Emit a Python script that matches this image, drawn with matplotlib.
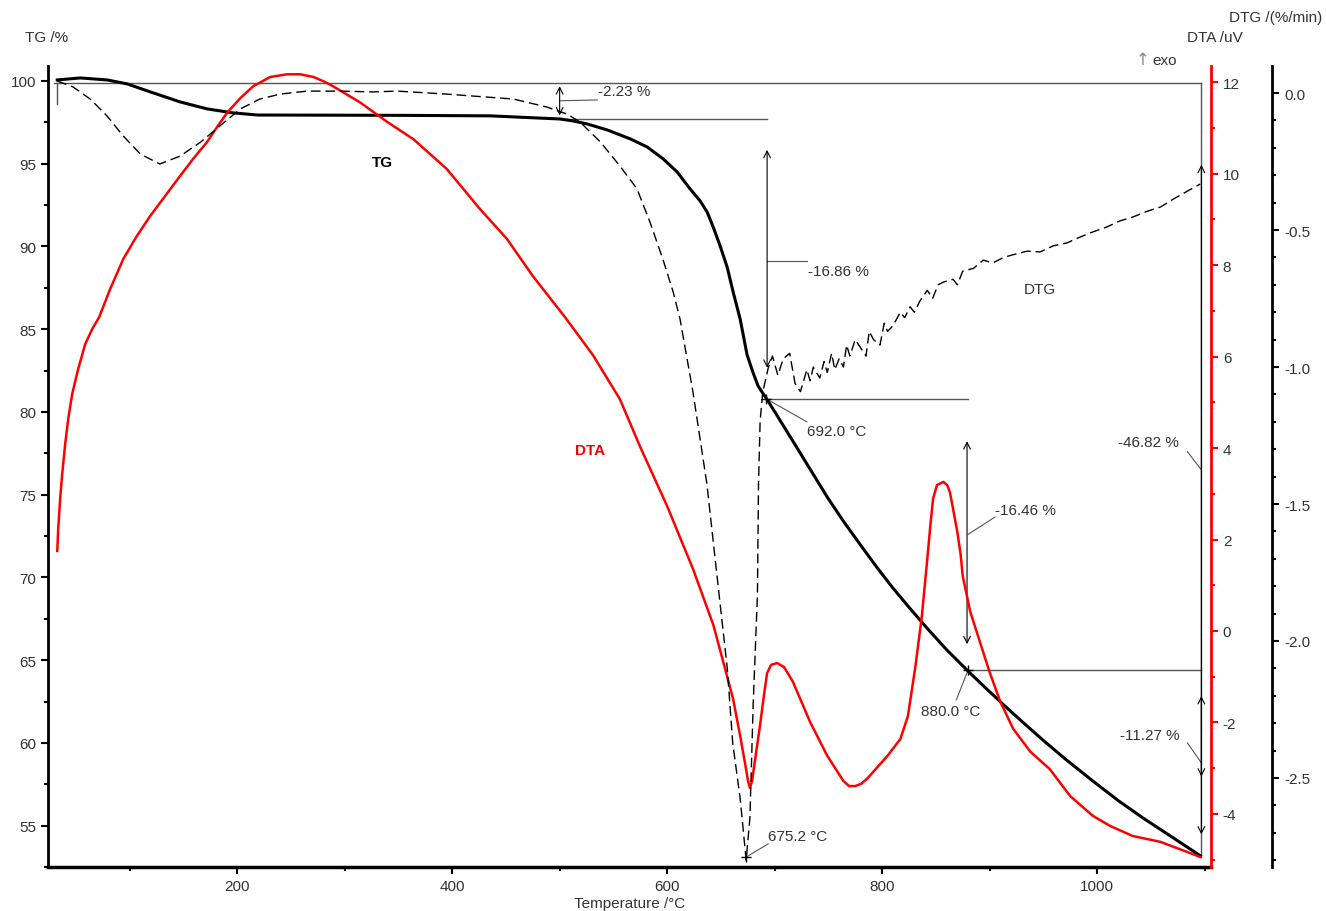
import numpy as np
import matplotlib
matplotlib.use("Agg")
import matplotlib.pyplot as plt
from matplotlib.ticker import MultipleLocator

plt.rcParams['font.family'] = ['Liberation Sans', 'DejaVu Sans']
plt.rcParams['axes.unicode_minus'] = False

# TG curve (temperature /°C, mass /%)
tg_t = [32.6, 54, 79, 97.7, 119, 147, 172, 196, 219, 352, 435, 500.5, 512.6, 525.6, 544.2,
        565.6, 581.4, 596.3, 609.3, 621.4, 630.7, 637.2, 642.8, 649.3, 655.8, 661.4, 667.9,
        674.4, 680, 684.6, 689.3, 692, 700, 710, 720, 735, 749, 765, 780, 795, 810,
        826, 842, 860, 879, 895, 913, 930, 950, 970, 996, 1020, 1043, 1070, 1096]
tg_v = [100.06, 100.18, 100.06, 99.82, 99.34, 98.73, 98.31, 98.07, 97.94, 97.92, 97.89,
        97.70, 97.58, 97.40, 97.04, 96.50, 96.01, 95.29, 94.50, 93.47, 92.75, 92.08, 91.18,
        90.03, 88.76, 87.25, 85.62, 83.44, 82.36, 81.57, 81.10, 80.85, 80.02, 78.97, 77.92,
        76.33, 74.85, 73.30, 71.95, 70.62, 69.36, 68.12, 66.92, 65.63, 64.40, 63.40, 62.30,
        61.30, 60.15, 59.05, 57.70, 56.50, 55.45, 54.30, 53.18]

# DTA curve (temperature /°C, uV)
dta_t = [32.6, 33.5, 35.3, 37.2, 40, 42.8, 46.5, 52.1, 58.6, 65.1, 71.6, 81.9, 94, 106, 119,
         133, 147, 159, 172, 181.4, 191, 203, 215, 230.7, 246.5, 258.6, 271, 280, 289, 314,
         339.5, 364, 395, 426, 451, 475, 505, 531, 556, 575, 600, 624, 643, 656, 661.4, 668,
         672.6, 675.3, 677, 679, 681.9, 686.5, 690.2, 693, 696.7, 702.3, 708.8, 717, 733,
         749, 764, 769.3, 775, 780.5, 786, 805, 817, 824, 831, 837, 842, 845, 847.4, 851,
         857, 860.5, 863, 866, 870, 873, 875, 882, 891, 900, 910, 922, 938, 956, 975, 996,
         1012, 1033, 1059, 1077, 1096]
dta_v = [1.75, 2.23, 2.89, 3.43, 4.09, 4.63, 5.18, 5.73, 6.27, 6.60, 6.86, 7.48, 8.13, 8.61,
         9.07, 9.51, 9.95, 10.32, 10.69, 11.02, 11.34, 11.65, 11.91, 12.11, 12.17, 12.17,
         12.11, 12.02, 11.91, 11.56, 11.13, 10.75, 10.10, 9.22, 8.57, 7.76, 6.86, 6.03, 5.07,
         4.02, 2.73, 1.36, 0.13, -1.01, -1.49, -2.30, -2.91, -3.28, -3.43, -3.28, -2.80,
         -2.05, -1.38, -0.92, -0.74, -0.70, -0.79, -1.11, -1.99, -2.73, -3.28, -3.39, -3.39,
         -3.34, -3.23, -2.73, -2.36, -1.86, -0.77, 0.33, 1.57, 2.34, 2.89, 3.19, 3.26, 3.19,
         3.04, 2.67, 2.16, 1.68, 1.20, 0.42, -0.24, -0.90, -1.55, -2.14, -2.64, -3.02, -3.61,
         -4.04, -4.26, -4.48, -4.61, -4.77, -4.94]

# DTG curve (temperature /°C, %/min)
dtg_t = [32.6, 47.4, 63.3, 79, 94, 110, 128, 147, 166, 184, 203, 221, 240, 265, 296,
         326.5, 349, 395, 457, 488, 507, 519, 538, 556, 572, 584, 596, 605.6, 612, 624,
         637, 646.5, 656, 661, 668, 673.5, 677, 680, 684, 685, 686.5, 689, 694, 698, 703,
         708, 714, 719, 724, 730, 733, 736, 742, 746, 749, 753, 756, 760, 764, 767, 770,
         775, 780, 785, 788, 792, 798, 802, 805, 810, 817, 821, 826, 830, 835, 842, 847,
         852, 857, 866, 870, 875, 885, 894, 903, 913, 922, 935, 947, 959, 972, 984,
         996, 1009, 1021, 1033, 1047, 1059, 1071, 1084, 1096]
dtg_v = [0.044, 0.022, -0.022, -0.084, -0.157, -0.223, -0.259, -0.230, -0.179, -0.120,
         -0.058, -0.022, -0.004, 0.007, 0.007, 0.004, 0.007, -0.004, -0.022, -0.051,
         -0.077, -0.106, -0.179, -0.266, -0.350, -0.471, -0.606, -0.726, -0.825, -1.091,
         -1.427, -1.766, -2.102, -2.372, -2.577, -2.80, -2.646, -2.237, -1.832, -1.427,
         -1.197, -1.091, -1.004, -0.96, -1.03, -0.97, -0.95, -1.06, -1.09, -1.01, -1.05,
         -1.00, -1.04, -0.98, -1.02, -0.95, -1.01, -0.97, -1.00, -0.92, -0.96, -0.90,
         -0.93, -0.96, -0.87, -0.90, -0.92, -0.84, -0.87, -0.85, -0.80, -0.82, -0.78,
         -0.80, -0.76, -0.72, -0.75, -0.70, -0.69, -0.68, -0.70, -0.65, -0.64, -0.61,
         -0.62, -0.60, -0.59, -0.577, -0.580, -0.558, -0.547, -0.526, -0.507, -0.489,
         -0.467, -0.453, -0.431, -0.416, -0.387, -0.358, -0.332]

txt = '#333333'
grey = '#555555'

fig = plt.figure(figsize=(13.26, 9.12), dpi=100)
ax = fig.add_axes([0.0362, 0.0482, 0.8771, 0.8783])
ax2 = ax.twinx()
ax3 = ax.twinx()

ax.set_xlim(24, 1106)
ax.set_ylim(52.5, 100.9)
ax2.set_ylim(-5.16, 12.35)
ax3.set_ylim(-2.825, 0.0985)

# curves
ax3.plot(dtg_t, dtg_v, color='black', lw=1.0, ls=(0, (7, 3.5)))
ax2.plot(dta_t, dta_v, color='red', lw=1.8)
ax.plot(tg_t, tg_v, color='black', lw=2.2, zorder=5)

# spines / ticks
for a in (ax, ax2, ax3):
    a.spines['top'].set_visible(False)
ax.spines['right'].set_visible(False)
ax.spines['left'].set_linewidth(2)
ax.spines['bottom'].set_linewidth(2.5)
for a in (ax2, ax3):
    a.spines['left'].set_visible(False)
    a.spines['bottom'].set_visible(False)
ax2.spines['right'].set_color('red')
ax2.spines['right'].set_linewidth(2)
ax3.spines['right'].set_position(('axes', 1.0525))
ax3.spines['right'].set_linewidth(2)

ax.xaxis.set_major_locator(MultipleLocator(200))
ax.xaxis.set_minor_locator(MultipleLocator(100))
ax.yaxis.set_major_locator(MultipleLocator(5))
ax.yaxis.set_minor_locator(MultipleLocator(2.5))
ax2.yaxis.set_major_locator(MultipleLocator(2))
ax2.yaxis.set_minor_locator(MultipleLocator(1))
ax3.yaxis.set_major_locator(MultipleLocator(0.5))
ax3.yaxis.set_minor_locator(MultipleLocator(0.1))
ax3.yaxis.set_major_formatter(matplotlib.ticker.FormatStrFormatter('%.1f'))

ax.tick_params(which='both', direction='out', labelsize=11, labelcolor=txt, width=1.5)
ax.tick_params(which='major', length=5)
ax.tick_params(which='minor', length=3)
ax2.tick_params(which='both', direction='out', labelsize=11, colors='red', labelcolor=txt, width=1.5)
ax2.tick_params(which='major', length=5)
ax2.tick_params(which='minor', length=3)
ax3.tick_params(which='both', direction='out', labelsize=11, labelcolor=txt, width=1.5)
ax3.tick_params(which='major', length=5)
ax3.tick_params(which='minor', length=3)

ax.set_xlabel('Temperature /°C', fontsize=11, color=txt, labelpad=2)

# step lines
ax.plot([30, 1097], [99.9, 99.9], color=grey, lw=1)
ax.plot([32.6, 32.6], [99.9, 98.6], color=grey, lw=1)
ax.plot([500, 693], [97.7, 97.7], color=grey, lw=1)
ax.plot([692, 880], [80.8, 80.8], color=grey, lw=1)
ax.plot([880, 1097], [64.4, 64.4], color=grey, lw=1)
ax.plot([1097, 1097], [99.9, 53.1], color=grey, lw=1)

arw = dict(arrowstyle='<->', color='black', lw=0.8, mutation_scale=12)
ax.annotate('', xy=(500, 99.85), xytext=(500, 97.75), arrowprops=arw)
ax.annotate('', xy=(693, 96.0), xytext=(693, 82.5), arrowprops=arw)
ax.annotate('', xy=(879, 78.4), xytext=(879, 65.8), arrowprops=arw)
ax.annotate('', xy=(1097, 95.1), xytext=(1097, 57.8), arrowprops=arw)
ax.annotate('', xy=(1097, 63.0), xytext=(1097, 54.3), arrowprops=arw)

# leader lines
leaders = [((500, 98.8), (535, 98.85)), ((693, 89.1), (730, 89.1)),
           ((692, 80.8), (730, 79.4)), ((880, 72.6), (905, 73.65)),
           ((880, 64.4), (869, 62.6)), ((1084, 77.6), (1097, 76.5)),
           ((1084, 60.0), (1097, 58.8)), ((673.5, 53.1), (694, 53.9))]
for (x0, y0), (x1, y1) in leaders:
    ax.plot([x0, x1], [y0, y1], color=grey, lw=0.8)
ax.plot([673.5, 692, 880], [53.1, 80.8, 64.4], '+', color='black', ms=7, mew=1)

fs = 11
ax.text(536, 99.4, '-2.23 %', fontsize=fs, color=txt, va='center')
ax.text(731, 88.5, '-16.86 %', fontsize=fs, color=txt, va='center')
ax.text(730, 78.85, '692.0 °C', fontsize=fs, color=txt, va='center')
ax.text(905, 74.1, '-16.46 %', fontsize=fs, color=txt, va='center')
ax.text(836, 61.9, '880.0 °C', fontsize=fs, color=txt, va='center')
ax.text(1019.5, 78.2, '-46.82 %', fontsize=fs, color=txt, va='center')
ax.text(1021, 60.5, '-11.27 %', fontsize=fs, color=txt, va='center')
ax.text(694, 54.4, '675.2 °C', fontsize=fs, color=txt, va='center')
ax.text(335, 95.1, 'TG', fontsize=fs, color='black', weight='bold', ha='center', va='center')
ax.text(528, 77.7, 'DTA', fontsize=fs, color='red', weight='bold', ha='center', va='center')
ax.text(947, 87.4, 'DTG', fontsize=fs, color=txt, ha='center', va='center')

# axis titles
fig.text(25 / 1326, 1 - 38 / 912, 'TG /%', fontsize=11, color=txt, va='center')
fig.text(1243 / 1326, 1 - 38 / 912, 'DTA /uV', fontsize=11, color=txt, va='center', ha='right')
fig.text(1322 / 1326, 1 - 18 / 912, 'DTG /(%/min)', fontsize=11, color=txt, va='center', ha='right')
fig.text(1136 / 1326, 1 - 60 / 912, '↑', fontsize=12, color='#888888', va='center',
         family='DejaVu Sans')
fig.text(1152 / 1326, 1 - 61 / 912, 'exo', fontsize=11, color=txt, va='center')

fig.savefig('out.png', dpi=100)
